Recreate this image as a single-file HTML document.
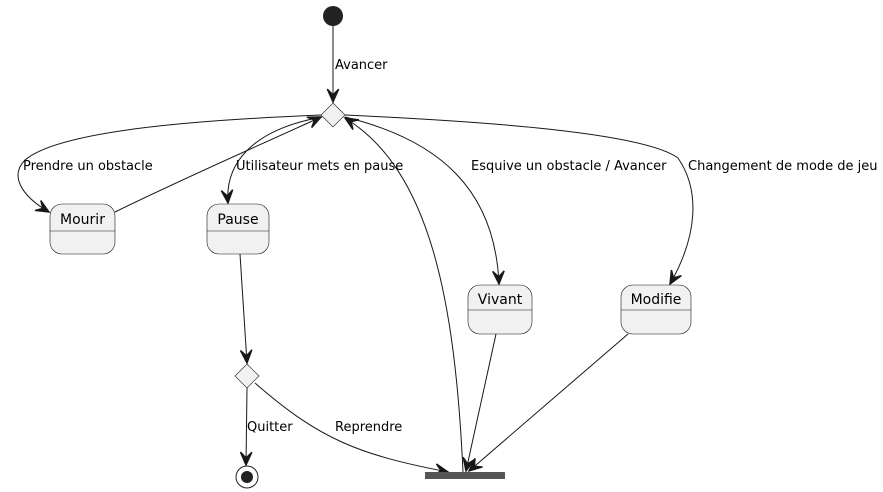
<!DOCTYPE html>
<html><head><meta charset="utf-8"><style>
html,body{margin:0;padding:0;background:#fff;}
svg{display:block;}
text{font-family:"DejaVu Sans","Liberation Sans",sans-serif;font-size:13px;fill:#000;}
text.s{font-size:14px;}
</style></head><body>
<svg width="883" height="492" viewBox="0 0 883 492" xmlns="http://www.w3.org/2000/svg">
<defs>
<marker id="a" markerUnits="userSpaceOnUse" markerWidth="20" markerHeight="20" viewBox="-12 -6 14 12" refX="0" refY="0" orient="auto">
<path d="M0,0 L-9,-4 L-5,0 L-9,4 Z" fill="#181818" stroke="#181818" stroke-width="1"/>
</marker>
</defs>
<g fill="none" stroke="#181818" stroke-width="1">
<path d="M333,26 L333,102" marker-end="url(#a)"/>
<path d="M321,115 C200,120 60,130 25,160 C10,175 20,195 49,212" marker-end="url(#a)"/>
<path d="M115,212 C180,180 260,145 321,117" marker-end="url(#a)"/>
<path d="M322,117 C250,130 225,165 228,203" marker-end="url(#a)"/>
<path d="M463,472 C455,300 430,170 345,118" marker-end="url(#a)"/>
<path d="M345,117 C440,140 495,190 499,284" marker-end="url(#a)"/>
<path d="M345,115 C450,120 640,130 678,158 C700,190 698,235 670,284" marker-end="url(#a)"/>
<path d="M240,254 L247,363" marker-end="url(#a)"/>
<path d="M247,388 L246,465" marker-end="url(#a)"/>
<path d="M255,383 C320,440 360,455 448,472" marker-end="url(#a)"/>
<path d="M496,334 L466,471" marker-end="url(#a)"/>
<path d="M628,334 L469,471" marker-end="url(#a)"/>
</g>
<circle cx="333" cy="16" r="10" fill="#222"/>
<polygon points="333,103 345,115 333,127 321,115" fill="#f1f1f1" stroke="#181818" stroke-width="0.6"/>
<polygon points="247,364 259,376 247,388 235,376" fill="#f1f1f1" stroke="#181818" stroke-width="0.6"/>
<circle cx="247" cy="477" r="11" fill="#fff" stroke="#222" stroke-width="1"/>
<circle cx="247" cy="477" r="6" fill="#222"/>
<rect x="425" y="472" width="80" height="7" fill="#555"/>
<g fill="#f1f1f1" stroke="#181818" stroke-width="0.6">
<rect x="50" y="204" width="65" height="50" rx="12"/>
<line x1="50" y1="231" x2="115" y2="231"/>
<rect x="207" y="204" width="62" height="50" rx="12"/>
<line x1="207" y1="231" x2="269" y2="231"/>
<rect x="468" y="285" width="64" height="49" rx="12"/>
<line x1="468" y1="310" x2="532" y2="310"/>
<rect x="621" y="285" width="70" height="49" rx="12"/>
<line x1="621" y1="310" x2="691" y2="310"/>
</g>
<g text-anchor="middle">
<text class="s" x="82.5" y="224">Mourir</text>
<text class="s" x="238" y="224">Pause</text>
<text class="s" x="500" y="304">Vivant</text>
<text class="s" x="656" y="304">Modifie</text>
</g>
<text x="335" y="69">Avancer</text>
<text x="23" y="170">Prendre un obstacle</text>
<text x="236" y="170">Utilisateur mets en pause</text>
<text x="471" y="170">Esquive un obstacle / Avancer</text>
<text x="688" y="170">Changement de mode de jeu</text>
<text x="247" y="431">Quitter</text>
<text x="335" y="431">Reprendre</text>
</svg>
</body></html>
